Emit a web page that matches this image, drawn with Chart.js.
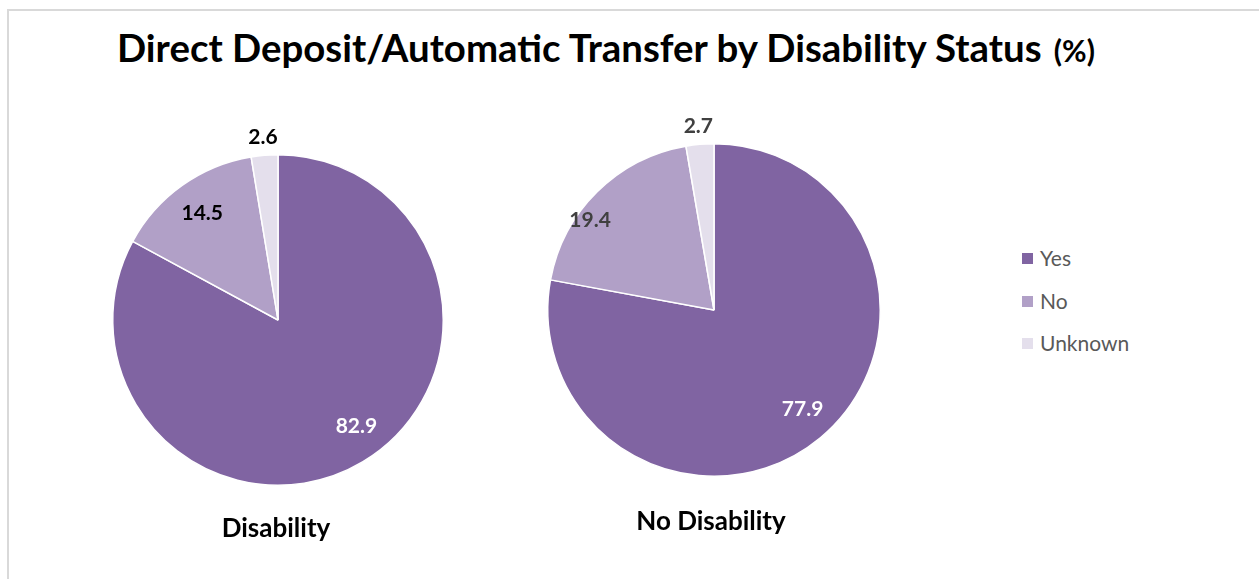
<!DOCTYPE html>
<html>

<head>
    <title>Direct Deposit/Automatic Transfer by Disability Status</title>
    <script src="https://cdn.jsdelivr.net/npm/chart.js"></script>
    <style>
        body {
            margin: 0;
            width: 1259px;
            height: 579px;
            background: #fff;
            font-family: Lato, "Open Sans", sans-serif;
            position: relative;
            overflow: hidden;
        }

        /* light grey chart frame */
        .frame {
            position: absolute;
            left: 7px;
            top: 9px;
            width: 1300px;
            height: 600px;
            border-top: 2px solid #d9d9d9;
            border-left: 2px solid #d9d9d9;
        }

        #title {
            position: absolute;
            left: 117px;
            top: 24px;
            font-size: 38.4px;
            line-height: 46px;
            font-weight: bold;
            color: #000;
            white-space: nowrap;
        }

        #title small {
            font-size: 30px;
            margin-left: 3px;
        }

        .pie {
            position: absolute;
        }

        .group-label {
            position: absolute;
            font-size: 26px;
            line-height: 30px;
            font-weight: bold;
            color: #000;
            transform: translateX(-50%);
            white-space: nowrap;
        }

        #legend {
            position: absolute;
            left: 1022px;
            top: 245px;
        }

        #legend .item {
            height: 42.5px;
            font-size: 21px;
            line-height: 26px;
            color: #595959;
            display: flex;
            align-items: flex-start;
        }

        #legend .box {
            width: 11px;
            height: 11px;
            margin: 8px 7px 0 0;
        }
    </style>
</head>

<body>
    <div class="frame"></div>
    <div id="title">Direct Deposit/Automatic Transfer by Disability Status <small>(%)</small></div>

    <canvas id="pieDisability" class="pie" width="412" height="412" style="left:72px; top:114px;"></canvas>
    <canvas id="pieNoDisability" class="pie" width="414" height="414" style="left:507px; top:103px;"></canvas>

    <div class="group-label" style="left:276px; top:512px;">Disability</div>
    <div class="group-label" style="left:711px; top:505px;">No Disability</div>

    <div id="legend"></div>

    <script>
        const answers = ["Yes", "No", "Unknown"];
        const groups = ["Disability", "No Disability"];
        const disabilityPct = [82.9, 14.5, 2.6];
        const noDisabilityPct = [77.9, 19.4, 2.7];

        const sliceColors = ["#8064A2", "#B1A0C7", "#E4DFEC"];

        // Value labels: r = fraction of radius from centre, da = angle nudge in degrees
        const labelPlugin = {
            id: "sliceLabels",
            afterDatasetsDraw(chart, args, opts) {
                const ctx = chart.ctx;
                const meta = chart.getDatasetMeta(0);
                const values = chart.data.datasets[0].data;
                ctx.save();
                ctx.font = "bold 21px Lato, 'Open Sans', sans-serif";
                ctx.textAlign = "center";
                ctx.textBaseline = "middle";
                meta.data.forEach((arc, i) => {
                    const p = arc.getProps(["x", "y", "startAngle", "endAngle", "outerRadius"], true);
                    const place = opts.place[i];
                    const mid = (p.startAngle + p.endAngle) / 2 + place.da * Math.PI / 180;
                    const r = p.outerRadius * place.r;
                    ctx.fillStyle = opts.colors[i];
                    ctx.fillText(values[i].toFixed(1), p.x + Math.cos(mid) * r, p.y + Math.sin(mid) * r);
                });
                ctx.restore();
            }
        };

        function makePie(id, values, place, colors) {
            return new Chart(document.getElementById(id), {
                type: "pie",
                data: {
                    labels: answers,
                    datasets: [{
                        data: values,
                        backgroundColor: sliceColors,
                        borderColor: "#ffffff",
                        borderWidth: 1.5
                    }]
                },
                options: {
                    responsive: false,
                    animation: false,
                    layout: { padding: 40 },
                    plugins: {
                        legend: { display: false },
                        tooltip: { enabled: false },
                        sliceLabels: { place: place, colors: colors }
                    }
                },
                plugins: [labelPlugin]
            });
        }

        makePie("pieDisability", disabilityPct,
            [{ r: 0.8, da: -5.6 }, { r: 0.79, da: 0 }, { r: 1.11, da: 0 }],
            ["#ffffff", "#000000", "#000000"]);

        makePie("pieNoDisability", noDisabilityPct,
            [{ r: 0.8, da: -2 }, { r: 0.92, da: -9.5 }, { r: 1.11, da: 0 }],
            ["#ffffff", "#404040", "#404040"]);

        // legend shared by both pies
        const legend = document.getElementById("legend");
        answers.forEach((name, i) => {
            const item = document.createElement("div");
            item.className = "item";
            item.innerHTML = `<span class="box" style="background:${sliceColors[i]}"></span>${name}`;
            legend.appendChild(item);
        });
    </script>
</body>

</html>
